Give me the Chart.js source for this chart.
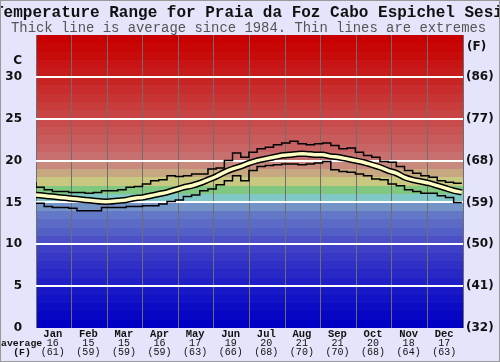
<!DOCTYPE html>
<html>
<head>
<meta charset="utf-8">
<script src="https://cdn.jsdelivr.net/npm/chart.js@4/dist/chart.umd.min.js"></script>
<style>
  html, body { margin: 0; padding: 0; background: #e4e4fa; }
  #wrap { width: 500px; height: 362px; }
</style>
</head>
<body>
<div id="wrap"><canvas id="chart" width="500" height="362"></canvas></div>
<script>
// month labels and monthly averages shown under the axis
const months = ['Jan', 'Feb', 'Mar', 'Apr', 'May', 'Jun', 'Jul', 'Aug', 'Sep', 'Oct', 'Nov', 'Dec'];
const monthAvgC = [16, 15, 15, 16, 17, 19, 20, 21, 21, 20, 18, 17];
const monthAvgF = [61, 59, 59, 59, 63, 66, 68, 70, 70, 68, 64, 63];
const yTicks = [0, 5, 10, 15, 20, 25, 30];

// day of year for each reading (weekly)
const days = [0, 7, 14, 21, 28, 35, 42, 49, 56, 63, 70, 77, 84, 91, 98, 105, 112, 119, 126, 133,
  140, 147, 154, 161, 168, 175, 182, 189, 196, 203, 210, 217, 224, 231, 238, 245, 252, 259, 266,
  273, 280, 287, 294, 301, 308, 315, 322, 329, 336, 343, 350, 357, 364];

const avgTemp = [15.9, 15.8, 15.7, 15.6, 15.5, 15.4, 15.3, 15.2, 15.1, 15.1, 15.2, 15.3, 15.5,
  15.6, 15.8, 16.0, 16.2, 16.5, 16.8, 17.0, 17.3, 17.7, 18.1, 18.6, 19.0, 19.3, 19.7, 20.0, 20.2,
  20.4, 20.6, 20.7, 20.8, 20.8, 20.7, 20.7, 20.5, 20.4, 20.2, 20.0, 19.8, 19.5, 19.2, 18.8, 18.5,
  18.0, 17.7, 17.5, 17.3, 17.0, 16.7, 16.4, 16.2];

const maxTemp = [17.4, 16.8, 16.5, 16.3, 16.3, 16.2, 16.2, 16.1, 16.2, 16.4, 16.4, 16.5, 16.8,
  16.9, 17.2, 17.6, 17.7, 18.2, 18.1, 18.2, 18.4, 18.4, 19.0, 19.1, 20.0, 20.9, 20.4, 21.0, 21.4,
  21.6, 21.9, 22.1, 22.3, 22.0, 21.9, 22.0, 22.1, 21.8, 21.4, 21.5, 21.0, 20.6, 20.4, 19.9, 19.8,
  19.3, 18.8, 18.5, 18.2, 18.0, 17.6, 17.4, 17.3];

const minTemp = [15.0, 14.9, 14.5, 14.4, 14.4, 14.3, 14.0, 14.0, 14.0, 14.4, 14.4, 14.4, 14.5,
  14.5, 14.6, 14.6, 14.8, 15.1, 15.3, 15.7, 15.9, 16.4, 16.6, 17.1, 17.6, 18.2, 17.6, 18.8, 19.3,
  19.4, 19.5, 19.6, 19.6, 19.5, 19.6, 19.7, 19.9, 18.9, 18.7, 18.6, 18.4, 18.2, 17.8, 17.7, 17.2,
  17.0, 16.5, 16.3, 16.1, 16.1, 15.8, 15.6, 15.0];

// one colour per 1 degree band, 0-1 at index 0
const bandColors = [
  '#0000c4', '#0606c4', '#0c0cc4', '#1212c6', '#1818c6', '#2020c6', '#2828c6', '#3030c6',
  '#3838c6', '#4040c6', '#4c50c6', '#5460c6', '#5c6cc6', '#6478c8', '#7494c8', '#80c8c8',
  '#80c880', '#c8c880', '#c8a880', '#c88a7c', '#c87070', '#c86464', '#c85c5c', '#c85454',
  '#c84c4c', '#c84444', '#c83c3c', '#c83434', '#c82c2c', '#c82424', '#c81c1c', '#c81414',
  '#c80c0c', '#c80606', '#c80000'
];

const toPts = vals => vals.map((v, i) => ({ x: days[i], y: v }));

const backdrop = {
  id: 'backdrop',
  beforeDraw(chart) {
    const { ctx, chartArea: a, scales } = chart;
    ctx.save();
    ctx.fillStyle = '#e4e4fa';
    ctx.fillRect(0, 0, chart.width, chart.height);
    const y = scales.y;
    bandColors.forEach((c, t) => {
      const top = Math.round(y.getPixelForValue(t + 1));
      const bot = Math.round(y.getPixelForValue(t));
      ctx.fillStyle = c;
      ctx.fillRect(a.left, top, a.right - a.left, bot - top);
    });
    ctx.restore();
  },
  afterDraw(chart) {
    const { ctx, scales } = chart;
    ctx.save();
    ctx.textBaseline = 'middle';
    ctx.fillStyle = '#111';
    ctx.textAlign = 'left';
    ctx.font = 'bold 16px "Liberation Mono", monospace';
    ctx.fillText('Temperature Range for Praia da Foz Cabo Espichel Sesimbra', -6, 13);
    ctx.fillStyle = '#555';
    ctx.font = '13.9px "Liberation Mono", monospace';
    ctx.fillText('Thick line is average since 1984. Thin lines are extremes', 11, 28);

    ctx.fillStyle = '#111';
    ctx.font = 'bold 12px "DejaVu Sans", sans-serif';
    ctx.textAlign = 'right';
    ctx.fillText('C', 22, 61);
    ctx.textAlign = 'left';
    ctx.fillText('(F)', 467, 47);

    // month labels with monthly averages
    const x = scales.x;
    ctx.textAlign = 'center';
    months.forEach((m, i) => {
      const px = x.getPixelForValue(i) - 1;
      ctx.font = 'bold 10.5px "Liberation Mono", monospace';
      ctx.fillText(m, px, 334);
      ctx.font = '10px "Liberation Mono", monospace';
      ctx.fillText(String(monthAvgC[i]), px, 343.5);
      ctx.fillText('(' + monthAvgF[i] + ')', px, 352.5);
    });
    ctx.font = 'bold 9.8px "Liberation Mono", monospace';
    ctx.textAlign = 'left';
    ctx.fillText('average', 1, 343.5);
    ctx.textAlign = 'center';
    ctx.fillText('(F)', 22, 352.5);

    ctx.strokeStyle = '#999';
    ctx.lineWidth = 1;
    ctx.strokeRect(0.5, 0.5, chart.width - 1, chart.height - 1);
    ctx.restore();
  }
};

const lineBase = { pointRadius: 0, fill: false, xAxisID: 'xd', yAxisID: 'y' };

new Chart(document.getElementById('chart').getContext('2d'), {
  type: 'line',
  data: {
    labels: months,
    datasets: [
      { ...lineBase, data: toPts(avgTemp), borderColor: '#ffffc4', borderWidth: 3.5, tension: 0.3, order: 0 },
      { ...lineBase, data: toPts(avgTemp), borderColor: '#000', borderWidth: 6.5, tension: 0.3, order: 1 },
      { ...lineBase, data: toPts(maxTemp), borderColor: '#000', borderWidth: 1.5, stepped: 'after', order: 2 },
      { ...lineBase, data: toPts(minTemp), borderColor: '#000', borderWidth: 1.5, stepped: 'after', order: 2 }
    ]
  },
  options: {
    responsive: false,
    animation: false,
    layout: { padding: { top: 35, left: 0, right: 0, bottom: 0 } },
    plugins: { legend: { display: false }, tooltip: { enabled: false }, title: { display: false } },
    scales: {
      x: {
        type: 'category',
        position: 'bottom',
        offset: true,
        grid: { offset: true, color: '#6e6e6e', lineWidth: 1, drawTicks: false },
        border: { display: false },
        ticks: { display: false },
        afterFit: s => { s.height = 34; }
      },
      xd: { type: 'linear', display: false, min: 0, max: 365 },
      y: {
        position: 'left',
        min: 0, max: 35,
        afterBuildTicks: s => { s.ticks = yTicks.map(v => ({ value: v })); },
        grid: {
          drawTicks: false,
          lineWidth: 2,
          color: c => (c.tick && c.tick.value > 0 ? '#ffffff' : 'rgba(0,0,0,0)')
        },
        border: { display: false },
        ticks: { padding: 14, color: '#111', font: { family: 'DejaVu Sans', size: 12, weight: 'bold' } },
        afterFit: s => { s.width = 36; }
      },
      yF: {
        position: 'right',
        min: 0, max: 35,
        afterBuildTicks: s => { s.ticks = yTicks.map(v => ({ value: v })); },
        grid: { display: false, drawTicks: false },
        border: { display: false },
        ticks: {
          padding: 3, color: '#111',
          font: { family: 'DejaVu Sans', size: 12, weight: 'bold' },
          callback: v => '(' + Math.round(v * 9 / 5 + 32) + ')'
        },
        afterFit: s => { s.width = 37; }
      }
    }
  },
  plugins: [backdrop]
});
</script>
</body>
</html>
